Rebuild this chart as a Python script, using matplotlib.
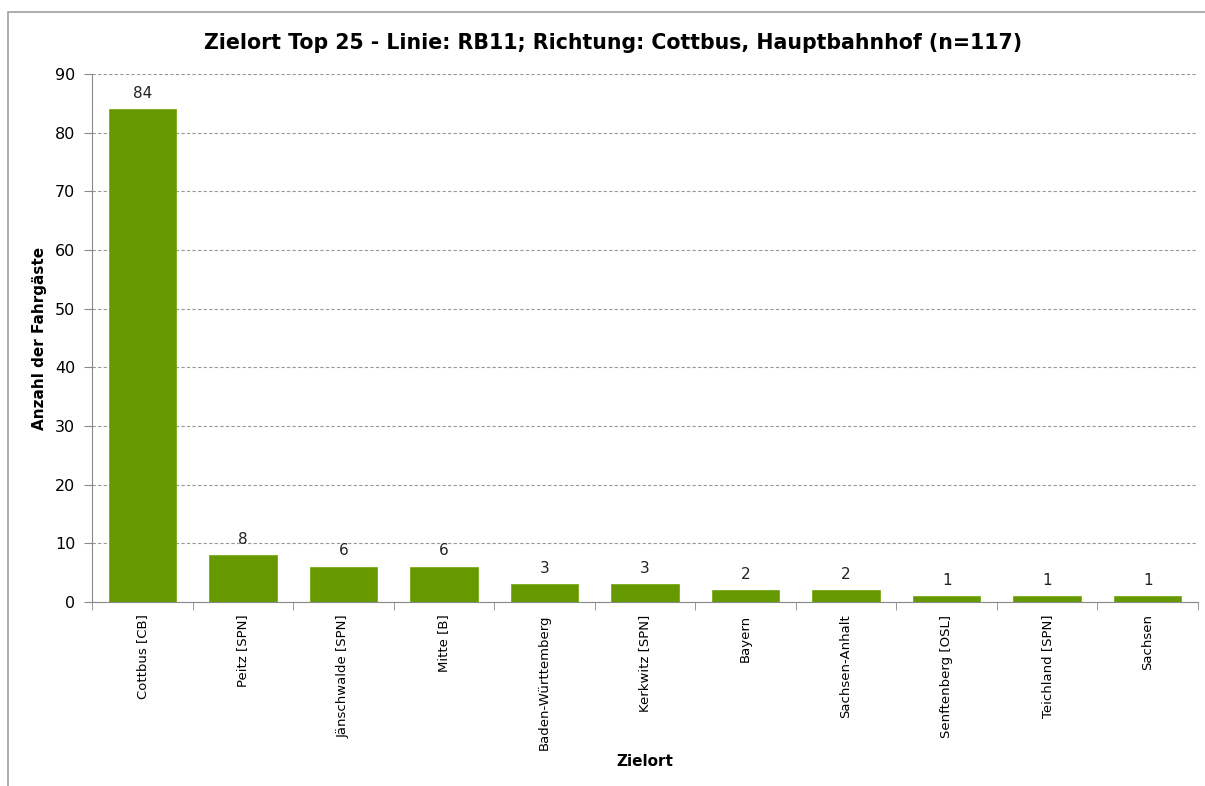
import numpy as np
import matplotlib.pyplot as plt
from matplotlib.patches import Rectangle

# Zielorte und Anzahl der Fahrgaeste
zielorte = ['Cottbus [CB]', 'Peitz [SPN]', 'Jänschwalde [SPN]', 'Mitte [B]',
            'Baden-Württemberg', 'Kerkwitz [SPN]', 'Bayern', 'Sachsen-Anhalt',
            'Senftenberg [OSL]', 'Teichland [SPN]', 'Sachsen']
anzahl = [84, 8, 6, 6, 3, 3, 2, 2, 1, 1, 1]
y_ticks = [0, 10, 20, 30, 40, 50, 60, 70, 80, 90]

title = 'Zielort Top 25 - Linie: RB11; Richtung: Cottbus, Hauptbahnhof (n=117)'

fig = plt.figure(figsize=(12.05, 7.86), dpi=100)
ax = fig.add_axes([92/1205, 1 - 602/786, (1198-92)/1205, (602-74)/786])

# frame around the chart area
fig.patches.append(Rectangle((8/1205, -0.01), 1.2, 1 - 12/786 + 0.01, transform=fig.transFigure,
                             fill=False, edgecolor='#a0a0a0', linewidth=1.2))

x = np.arange(len(zielorte))
bars = ax.bar(x, anzahl, width=0.67, color='#669900', edgecolor='#7aab1a', linewidth=0.6, zorder=3)
for xi, v in zip(x, anzahl):
    ax.annotate(str(v), (xi, v), xytext=(0, 6), textcoords='offset points',
                ha='center', va='bottom', fontsize=11, color='#222222')

ax.set_xlim(-0.5, len(zielorte) - 0.5)
ax.set_ylim(0, 90)
ax.set_yticks(y_ticks)
ax.tick_params(axis='y', labelsize=11.5, length=6, color='#888888', pad=6)
ax.set_xticks(x)
ax.set_xticklabels(zielorte, rotation=90, fontsize=9.5)
ax.tick_params(axis='x', length=0, pad=9)
ax.set_xticks(np.arange(len(zielorte) + 1) - 0.5, minor=True)
ax.tick_params(axis='x', which='minor', length=6, color='#888888')

ax.grid(axis='y', linestyle=(0, (3, 2)), color='#999999', linewidth=0.8, zorder=0)
for s in ['top', 'right']:
    ax.spines[s].set_visible(False)
ax.spines['left'].set_color('#888888')
ax.spines['bottom'].set_color('#888888')

fig.text(40/1205, 1 - 338/786, 'Anzahl der Fahrgäste', rotation=90, ha='center', va='center',
         fontsize=11, fontweight='bold')
fig.text(645/1205, 1 - 762/786, 'Zielort', ha='center', va='center', fontsize=11, fontweight='bold')
fig.text(613/1205, 1 - 43/786, title, ha='center', va='center', fontsize=14.8, fontweight='bold')

fig.savefig('out.png', dpi=100)
